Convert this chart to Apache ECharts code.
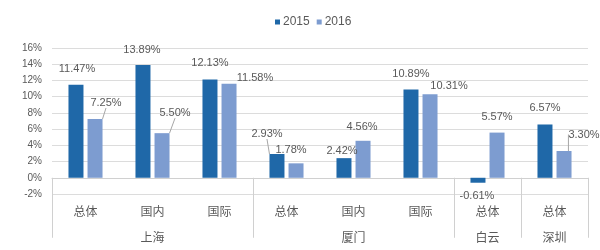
<!DOCTYPE html>
<html>
<head>
<meta charset="utf-8">
<script src="https://cdn.jsdelivr.net/npm/echarts@6/dist/echarts.min.js"></script>
<style>html,body{margin:0;padding:0;background:#fff}#c{width:600px;height:250px}</style>
</head>
<body>
<div id="c"></div>
<script>
var categories = ['总体', '国内', '国际', '总体', '国内', '国际', '总体', '总体'];
var groupLabels = ['', '上海', '', '', '厦门', '', '白云', '深圳'];
var groupStarts = [0, 3, 6, 7];
var seriesNames = ['2015', '2016'];
var values2015 = [11.47, 13.89, 12.13, 2.93, 2.42, 10.89, -0.61, 6.57];
var values2016 = [7.25, 5.50, 11.58, 1.78, 4.56, 10.31, 5.57, 3.30];
var yTicks = { min: -2, max: 16, interval: 2 };

// label placement (pixel nudges) and which labels have a leader line
var labelShift = [
  [[1,-5],[-1,-5],[0,-6],[-10,-10],[-2,3],[0,-5],[-1,3],[0,-6]],
  [[11,-6],[13,-10],[26,5],[-5,-3],[-1,-3],[19,2],[0,-5],[20,-6]]
];
var leader = [
  [false,false,false,true,false,false,false,false],
  [true,true,false,false,false,false,false,true]
];
var colors = ['#1F68A8', '#7D9CD0'];

function buildData(vals, si) {
  return vals.map(function (v, i) {
    var item = { value: v, labelLine: { show: leader[si][i] } };
    if (v < 0) item.label = { position: 'bottom' };
    return item;
  });
}

var chart = echarts.init(document.getElementById('c'), null, { renderer: 'canvas' });
var labelFont = { fontFamily: 'Liberation Sans', fontSize: 11, color: '#595959' };

chart.setOption({
  animation: false,
  color: colors,
  legend: {
    data: seriesNames,
    top: 11,
    left: 270,
    icon: 'rect',
    itemWidth: 5,
    itemHeight: 5,
    itemGap: 7,
    textStyle: { fontFamily: 'Liberation Sans', fontSize: 12, color: '#595959', padding: [0, 0, 0, -2] }
  },
  grid: { left: 52, right: 12, top: 48, bottom: 56, containLabel: false },
  xAxis: [
    {
      type: 'category',
      data: categories,
      position: 'bottom',
      axisLine: { show: true, lineStyle: { color: '#D0D0D0', width: 1 } },
      axisTick: {
        show: true, length: 60,
        interval: function (idx) { return groupStarts.indexOf(idx) >= 0; },
        lineStyle: { color: '#D0D0D0' }
      },
      axisLabel: { interval: 0, margin: 11, fontFamily: 'Noto Sans CJK SC', fontSize: 12, color: '#595959' }
    },
    {
      type: 'category',
      data: groupLabels,
      position: 'bottom',
      offset: 26,
      axisLine: { show: false },
      axisTick: { show: false },
      axisLabel: { interval: 0, margin: 11, fontFamily: 'Noto Sans CJK SC', fontSize: 12, color: '#595959' }
    }
  ],
  yAxis: {
    type: 'value',
    min: yTicks.min, max: yTicks.max, interval: yTicks.interval,
    axisLine: { show: false },
    axisTick: { show: false },
    splitLine: { lineStyle: { color: '#DCDCDC', width: 1 } },
    axisLabel: { formatter: '{value}%', margin: 10, fontFamily: 'Liberation Sans', fontSize: 10, color: '#595959' }
  },
  series: [values2015, values2016].map(function (vals, si) {
    return {
      name: seriesNames[si],
      type: 'bar',
      xAxisIndex: 0,
      barWidth: 15,
      barGap: '27%',
      data: buildData(vals, si),
      label: Object.assign({
        show: true,
        position: 'top',
        distance: 5,
        formatter: function (p) { return p.value.toFixed(2) + '%'; }
      }, labelFont),
      labelLine: { show: false, lineStyle: { color: '#A6A6A6', width: 1 } },
      labelLayout: function (p) {
        var s = labelShift[p.seriesIndex][p.dataIndex];
        return { dx: s[0], dy: s[1] };
      }
    };
  })
});
</script>
</body>
</html>
